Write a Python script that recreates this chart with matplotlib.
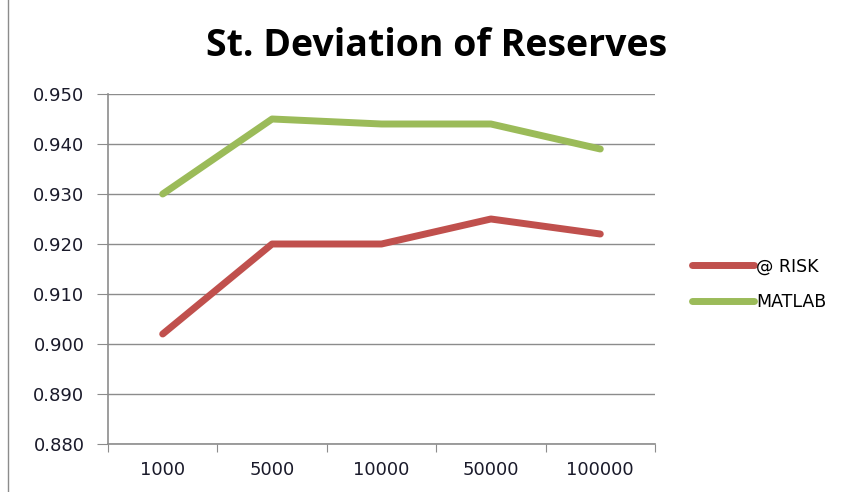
import matplotlib
matplotlib.use("Agg")
import matplotlib.pyplot as plt
import numpy as np

categories = ["1000", "5000", "10000", "50000", "100000"]
risk = [0.902, 0.920, 0.920, 0.925, 0.922]
matlab = [0.930, 0.945, 0.944, 0.944, 0.939]
yticks = [0.880, 0.890, 0.900, 0.910, 0.920, 0.930, 0.940, 0.950]
title = "St. Deviation of Reserves"

fig = plt.figure(figsize=(8.55, 4.92), dpi=100)
ax = fig.add_axes([108/855, 48/492, 547/855, 350/492])

x = np.arange(len(categories))
l1, = ax.plot(x, risk, color="#C0504D", lw=5, solid_capstyle="round", label="@ RISK")
l2, = ax.plot(x, matlab, color="#9BBB59", lw=5, solid_capstyle="round", label="MATLAB")

ax.set_xlim(-0.5, len(categories) - 0.5)
ax.set_ylim(0.880, 0.950)
ax.set_yticks(yticks)
ax.set_yticklabels([f"{v:.3f}" for v in yticks])
ax.yaxis.grid(True, color="#8C8C8C", lw=1)
ax.set_axisbelow(True)

ax.set_xticks(np.arange(len(categories) + 1) - 0.5)
ax.set_xticklabels([])
ax.set_xticks(x, minor=True)
ax.set_xticklabels(categories, minor=True)
ax.tick_params(axis="x", which="minor", length=0, pad=12, labelsize=13, labelcolor="#1a1a2a")
ax.tick_params(axis="x", which="major", length=6, color="#8C8C8C", direction="out")
ax.tick_params(axis="y", length=8, color="#8C8C8C", direction="out", labelsize=13, labelcolor="#1a1a2a", pad=9)

for s in ["top", "right"]:
    ax.spines[s].set_visible(False)
for s in ["left", "bottom"]:
    ax.spines[s].set_color("#8C8C8C")
    ax.spines[s].set_linewidth(1.2)

fig.text(437 / 855, 1 - 46/492, title, ha="center", va="center",
         fontsize=27, fontweight="bold", family="Open Sans")

fig.legend(handles=[l1, l2], loc="center left", bbox_to_anchor=(676/855, 1 - 284/492),
           frameon=False, fontsize=12.5, handlelength=3.6, handletextpad=0.1,
           labelspacing=1.0)

# outer border line on left like the reference
fig.add_artist(plt.Line2D([8/855, 8/855], [0, 1], color="#8C8C8C", lw=1, transform=fig.transFigure))

fig.savefig("out.png", dpi=100)
